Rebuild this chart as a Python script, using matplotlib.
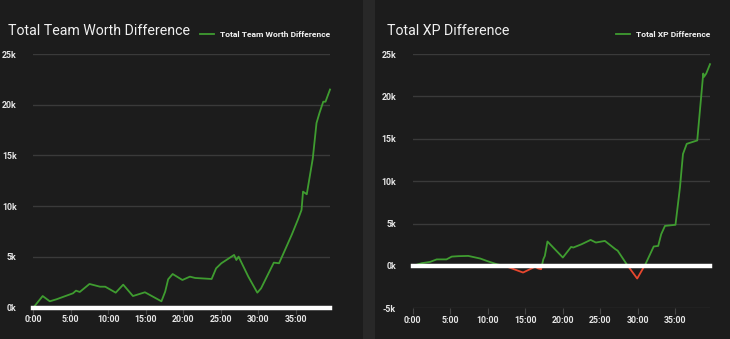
import matplotlib
matplotlib.use("Agg")
import matplotlib.pyplot as plt
from matplotlib.patches import Rectangle
from matplotlib.lines import Line2D

# Game time in minutes and gold / xp differences
worth_minutes = [0, 1.25, 2.2, 3.1, 5.3, 5.7, 6.2, 7.5, 8.9, 9.6, 11.0, 12.0, 13.3,
                 14.9, 17.1, 17.6, 18.0, 18.6, 19.9, 20.9, 21.6, 23.8, 24.4, 25.1,
                 26.8, 27.1, 27.4, 28.7, 29.9, 30.4, 32.1, 32.8, 33.6, 34.5, 35.3,
                 35.8, 36.0, 36.5, 37.3, 37.8, 38.2, 38.7, 39.0, 39.6]
worth_diff = [0, 1150, 630, 830, 1420, 1680, 1550, 2340, 2070, 2070, 1480, 2270, 1150,
              1520, 630, 1580, 2800, 3320, 2730, 3060, 2930, 2830, 3880, 4380,
              5200, 4700, 5030, 3060, 1480, 1910, 4440, 4380, 5700, 7200, 8650,
              9630, 11440, 11180, 14700, 18200, 19200, 20300, 20300, 21500]

xp_minutes = [0, 1.2, 2.3, 3.2, 4.5, 5.2, 6.1, 7.4, 9.0, 9.9, 11.2, 12.5, 14.7,
              15.9, 16.3, 16.7, 17.1, 17.4, 17.6, 17.95, 20.0, 21.1, 21.4, 22.5,
              23.7, 24.4, 25.6, 27.0, 27.3, 28.5, 29.9, 31.0, 32.1, 32.7, 33.1,
              33.6, 35.0, 35.6, 36.0, 36.5, 37.9, 38.7, 38.8, 39.1, 39.6]
xp_diff = [0, 320, 470, 770, 770, 1100, 1150, 1180, 870, 580, 200, -70, -780,
           -270, -70, -300, -390, 790, 1180, 2880, 990, 2240, 2170, 2560,
           3070, 2760, 2950, 1970, 1800, 200, -1490, 200, 2290, 2360, 3740,
           4720, 4850, 9270, 13200, 14400, 14800, 22700, 22300, 22700, 23800]

x_ticks = [0, 5, 10, 15, 20, 25, 30, 35]
x_tick_labels = ["0:00", "5:00", "10:00", "15:00", "20:00", "25:00", "30:00", "35:00"]

BG = "#1c1c1c"
SEP = "#282828"
GRID = "#3a3a3a"
GREEN = "#3f9c30"
RED = "#e8472e"
TEXT = "#e6e6e6"

W, H = 730, 339
fig = plt.figure(figsize=(W / 100, H / 100), dpi=100, facecolor=BG)
fig.patches.append(Rectangle((363 / W, 0), 12 / W, 1, transform=fig.transFigure,
                             facecolor=SEP, edgecolor="none", zorder=-5))


def panel(rect, minutes, values, ymin, title, label):
    ax = fig.add_axes(rect)
    ax.set_facecolor(BG)
    ax.patch.set_alpha(0)
    ax.set_xlim(0, 39.6)
    ax.set_ylim(ymin, 25000)
    for s in ax.spines.values():
        s.set_visible(False)
    yt = list(range(ymin, 25001, 5000))
    ax.set_yticks(yt)
    ax.set_yticklabels([f"{v // 1000}k" for v in yt])
    ax.set_xticks(x_ticks)
    ax.set_xticklabels(x_tick_labels)
    for v in yt:
        if v != 0:
            ax.axhline(v, color=GRID, lw=1.0, zorder=1)
    ax.tick_params(axis="y", length=0, pad=12, labelcolor=TEXT, labelsize=6.3)
    ax.tick_params(axis="x", length=4, width=0.8, color="#444444", pad=1.5,
                   labelcolor=TEXT, labelsize=6.3)
    for t in ax.get_xticklabels() + ax.get_yticklabels():
        t.set_fontfamily("Roboto")
        t.set_fontweight("bold")

    # positive stretch in green, negative stretch in red
    pos, = ax.plot(minutes, values, color=GREEN, lw=1.3, zorder=3)
    neg, = ax.plot(minutes, values, color=RED, lw=1.3, zorder=3)
    pos.set_clip_path(Rectangle((-10, 0), 100, 1e6, transform=ax.transData))
    neg.set_clip_path(Rectangle((-10, -1e6), 100, 1e6, transform=ax.transData))

    ax.axhline(0, color="white", lw=3.2, zorder=4, clip_on=False)

    ax.text(-0.085, 1.075, title, transform=ax.transAxes, ha="left", va="baseline",
            color="#f0f0f0", fontsize=10.2, fontfamily="Roboto")
    leg = ax.legend([Line2D([], [], color=GREEN, lw=1.3)], [label],
                    loc="lower right", bbox_to_anchor=(1.0, 1.064),
                    frameon=False, borderpad=0, borderaxespad=0,
                    handlelength=1.6, handletextpad=0.7,
                    prop={"family": "Roboto", "weight": "bold", "size": 6.1})
    for t in leg.get_texts():
        t.set_color("#f2f2f2")
    return ax


panel([33.3 / W, 31.3 / H, 296.7 / W, 253.7 / H], worth_minutes, worth_diff, 0,
      "Total Team Worth Difference", "Total Team Worth Difference")
panel([412.7 / W, 30.7 / H, 297.3 / W, 254.3 / H], xp_minutes, xp_diff, -5000,
      "Total XP Difference", "Total XP Difference")

fig.savefig("out.png", dpi=100, facecolor=BG)
